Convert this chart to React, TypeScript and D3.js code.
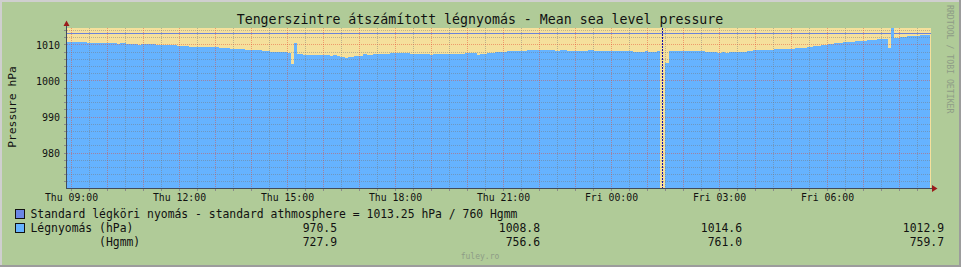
import React from "react";
import * as d3 from "d3";

// ---------- data ----------
const titleText = "Tengerszintre átszámított légnyomás - Mean sea level pressure";
const yAxisTitle = "Pressure hPa";

// step changes of the measured pressure (value holds until next time)
const stepTimes = [
  "Thu 08:52", "Thu 09:25", "Thu 10:15", "Thu 10:21", "Thu 10:30", "Thu 10:51", "Thu 10:56", "Thu 11:21",
  "Thu 11:56", "Thu 12:16", "Thu 13:05", "Thu 13:24", "Thu 13:49", "Thu 14:18", "Thu 14:31", "Thu 15:01",
  "Thu 15:06", "Thu 15:10", "Thu 15:16", "Thu 15:26", "Thu 16:11", "Thu 16:16", "Thu 16:22", "Thu 16:28",
  "Thu 16:36", "Thu 16:41", "Thu 16:50", "Thu 17:06", "Thu 17:12", "Thu 17:23", "Thu 17:51", "Thu 18:24",
  "Thu 18:58", "Thu 19:03", "Thu 19:56", "Thu 20:15", "Thu 20:21", "Thu 20:32", "Thu 20:46", "Thu 21:05",
  "Thu 21:39", "Thu 22:26", "Thu 22:34", "Thu 22:45", "Thu 23:21", "Thu 23:30", "Fri 00:36", "Fri 00:56",
  "Fri 01:01", "Fri 01:15", "Fri 01:21", "Fri 01:29", "Fri 01:35", "Fri 02:36", "Fri 02:55", "Fri 03:04",
  "Fri 03:09", "Fri 03:15", "Fri 03:45", "Fri 03:56", "Fri 04:30", "Fri 05:06", "Fri 05:25", "Fri 05:36",
  "Fri 05:49", "Fri 06:00", "Fri 06:11", "Fri 06:26", "Fri 06:46", "Fri 07:05", "Fri 07:22", "Fri 07:40",
  "Fri 07:46", "Fri 07:51", "Fri 08:01", "Fri 08:12", "Fri 08:34",
];
const stepValues = [
  1010.9, 1010.55, 1010.3, 1010.55, 1010.3, 1010.0, 1010.3, 1010.0,
  1009.7, 1009.45, 1009.2, 1008.9, 1008.6, 1008.35, 1008.05, 1007.8,
  1004.7, 1010.5, 1007.5, 1007.2, 1006.95, 1007.2, 1006.95, 1006.7,
  1006.45, 1006.7, 1006.95, 1007.5, 1007.2, 1007.5, 1007.75, 1007.5,
  1007.25, 1007.5, 1007.75, 1007.25, 1007.5, 1007.75, 1008.05, 1008.3,
  1008.6, 1008.35, 1008.6, 1008.35, 1008.6, 1008.35, 1008.05, 1008.3,
  1008.05, 1008.3, NaN, 1005.1, 1008.2, 1008.05, 1007.8, 1008.05,
  1007.8, 1008.05, 1008.3, 1008.6, 1008.9, 1009.2, 1009.45, 1009.7,
  1010.0, 1010.3, 1010.55, 1010.85, 1011.1, 1011.4, 1011.65, 1009.2,
  1014.6, 1011.95, 1012.2, 1012.5, 1012.8,
];
const dataEnd = "Fri 08:51";
const vruleTime = "Fri 01:25";
const standardPressure = 1013.25;

const yMajorTicks = [980, 990, 1000, 1010];
const yRange = [970.28, 1014.72];

const legendStandard = "Standard légköri nyomás - standard athmosphere = 1013.25 hPa / 760 Hgmm";
const legendRows = [
  { label: "Légnyomás (hPa)", values: ["970.5", "1008.8", "1014.6", "1012.9"], box: true },
  { label: "          (Hgmm)", values: ["727.9", "756.6", "761.0", "759.7"], box: false },
];
const watermark = "RRDTOOL / TOBI OETIKER";
const footer = "fuley.ro";

// ---------- helpers ----------
const parseT = (s: string) => {
  const [day, hm] = s.split(" ");
  const [h, m] = hm.split(":").map(Number);
  return new Date(2023, 0, day === "Thu" ? 5 : 6, h, m, 0);
};

const W = 961, H = 267;
const L = 67, R = 931, T = 28, B = 188;
const FONT = "'DejaVu Sans Mono', monospace";

export default function App() {
  const x = d3.scaleTime()
    .domain([new Date(2023, 0, 5, 8, 52, 30), new Date(2023, 0, 6, 8, 52, 30)])
    .range([L, R]);
  const y = d3.scaleLinear().domain(yRange).range([B, T]);

  // build explicit step points
  const times = stepTimes.map(parseT);
  const endT = parseT(dataEnd);
  const pts: { t: Date; v: number }[] = [];
  times.forEach((t, i) => {
    const next = i + 1 < times.length ? times[i + 1] : endT;
    pts.push({ t, v: stepValues[i] });
    pts.push({ t: next, v: stepValues[i] });
  });
  const area = d3.area<{ t: Date; v: number }>()
    .defined(d => !isNaN(d.v))
    .x(d => x(d.t))
    .y0(B)
    .y1(d => y(d.v));

  const hourTicks = x.ticks(d3.timeHour.every(1)!);
  const halfTicks = x.ticks(d3.timeMinute.every(30)!).filter(d => d.getMinutes() !== 0);
  const labelTicks = x.ticks(d3.timeHour.every(3)!);
  const fmt = d3.timeFormat("%a %H:%M");

  const minorY = d3.range(972, 1015, 2).filter(v => v % 10 !== 0);
  const px = (v: number) => Math.floor(v) + 0.5;

  const mgrid = "rgba(228,70,50,0.45)";
  const grid = "rgba(120,120,120,0.45)";
  const axisCol = "#434b5a";
  const arrowCol = "#9b1b1b";

  const valueRight = [337, 540, 742, 944];

  return (
    <svg width={W} height={H} style={{ position: "absolute", left: 0, top: 0 }}
      fontFamily={FONT}>
      <rect x={0} y={0} width={W} height={H} fill="#b0cb98" />
      {/* frame */}
      <rect x={0} y={0} width={W} height={2} fill="#cfcfcf" />
      <rect x={0} y={0} width={2} height={H} fill="#cfcfcf" />
      <rect x={0} y={H - 2} width={W} height={2} fill="#9c9c9c" />
      <rect x={W - 2} y={0} width={2} height={H} fill="#9c9c9c" />

      {/* title */}
      <text x={480} y={24} textAnchor="middle" fontSize={13.25} fill="#111">{titleText}</text>

      {/* plot background */}
      <rect x={L} y={T} width={R - L} height={B - T} fill="#f5e09c" />

      {/* standard atmosphere rule */}
      <line x1={L} x2={R} y1={Math.round(y(standardPressure)) + 0.5} y2={Math.round(y(standardPressure)) + 0.5}
        stroke="#6a82d8" strokeWidth={1} />

      {/* pressure area */}
      <path d={area(pts) || ""} fill="#66b3ff" shapeRendering="crispEdges" />

      {/* grid */}
      {halfTicks.map((d, i) => (
        <line key={"hx" + i} x1={px(x(d))} x2={px(x(d))} y1={T} y2={B} stroke={grid} strokeDasharray="1,1" />
      ))}
      {minorY.map((v, i) => (
        <line key={"hy" + i} x1={L} x2={R} y1={px(y(v))} y2={px(y(v))} stroke={grid} strokeDasharray="1,1" />
      ))}
      {hourTicks.map((d, i) => (
        <line key={"mx" + i} x1={px(x(d))} x2={px(x(d))} y1={T} y2={B} stroke={mgrid} strokeDasharray="1,1" />
      ))}
      {yMajorTicks.map((v, i) => (
        <line key={"my" + i} x1={L} x2={R} y1={px(y(v))} y2={px(y(v))} stroke={mgrid} strokeDasharray="1,1" />
      ))}

      {/* vrule */}
      <line x1={px(x(parseT(vruleTime)))} x2={px(x(parseT(vruleTime)))} y1={T} y2={B}
        stroke="#1010b0" strokeDasharray="2,1" />

      {/* axis ticks */}
      {[...halfTicks, ...hourTicks].map((d, i) => (
        <line key={"tx" + i} x1={px(x(d))} x2={px(x(d))} y1={B} y2={B + 3} stroke="#8a8a8a" />
      ))}
      {[...minorY, ...yMajorTicks].map((v, i) => (
        <line key={"ty" + i} x1={L - 3} x2={L} y1={px(y(v))} y2={px(y(v))} stroke="#8a8a8a" />
      ))}

      {/* axes */}
      <line x1={66.5} x2={66.5} y1={24} y2={B + 1} stroke={axisCol} />
      <line x1={66} x2={933} y1={B + 0.5} y2={B + 0.5} stroke={axisCol} />
      <path d={`M63.5,26 L66.5,20.5 L69.5,26 Z`} fill={arrowCol} />
      <path d={`M932,185 L937.5,188.5 L932,192 Z`} fill={arrowCol} />

      {/* y tick labels */}
      {yMajorTicks.map((v, i) => (
        <text key={"yl" + i} x={60} y={y(v) + 3.6} textAnchor="end" fontSize={10} fill="#111">{v}</text>
      ))}
      {/* x tick labels */}
      {labelTicks.map((d, i) => (
        <text key={"xl" + i} x={x(d)} y={201} textAnchor="middle" fontSize={9.8} fill="#111">{fmt(d)}</text>
      ))}

      {/* y axis title */}
      <text transform={`translate(15.5,107) rotate(-90)`} textAnchor="middle" fontSize={11.3} fill="#111">{yAxisTitle}</text>

      {/* legend */}
      <rect x={15.5} y={209.5} width={9} height={9} fill="#6a86e6" stroke="#111" />
      <text x={30.5} y={218} fontSize={11.4} fill="#111" style={{ whiteSpace: "pre" }}>{legendStandard}</text>
      {legendRows.map((r, ri) => {
        const by = 232 + ri * 14;
        return (
          <g key={"lr" + ri}>
            {r.box && <rect x={15.5} y={by - 8.5} width={9} height={9} fill="#66b3ff" stroke="#111" />}
            <text x={30.5} y={by} fontSize={11.4} fill="#111" xmlSpace="preserve" style={{ whiteSpace: "pre" }}>{r.label}</text>
            {r.values.map((v, vi) => (
              <text key={vi} x={valueRight[vi]} y={by} textAnchor="end" fontSize={11.4} fill="#111">{v}</text>
            ))}
          </g>
        );
      })}

      {/* watermark & footer */}
      <text transform={`translate(947,5) rotate(90)`} fontSize={8.2} fill="#8e9c86">{watermark}</text>
      <text x={480} y={259} textAnchor="middle" fontSize={8} fill="#8e9c86">{footer}</text>
    </svg>
  );
}
